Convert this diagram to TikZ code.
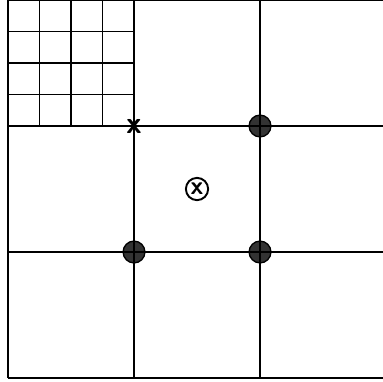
\documentclass[tikz,border=0pt]{standalone}
\usetikzlibrary{positioning}
\begin{document}
\begin{tikzpicture}[
    x=3cm, y=3cm,
    gridline/.style={line width=1.3pt, black},
    fineline/.style={line width=1.3pt, black},
    dot/.style={circle, draw=black, fill=black!80, line width=0.9pt, minimum size=0.52cm, inner sep=0pt},
    target/.style={circle, draw=black, line width=1.3pt, minimum size=0.53cm, inner sep=0pt, font=\sffamily\bfseries\LARGE},
    corner/.style={inner sep=0pt, font=\sffamily\bfseries\huge}
]
\clip (-0.0635,-0.0238) rectangle (2.976,3.0);
% sample points under the lines
\node[dot] (p1) at (2,2) {};
\node[dot] (p2) at (1,1) {};
\node[dot] (p3) at (2,1) {};
% fine and coarse grids
\draw[fineline] (0,2) grid[step=0.25] (1,3);
\draw[gridline] (0,0) grid[step=1] (3,3);
% marks
\node[corner] (cx) at (1,2) {x};
\node[target] (tg) at (1.5,1.5) {x};
\end{tikzpicture}
\end{document}
